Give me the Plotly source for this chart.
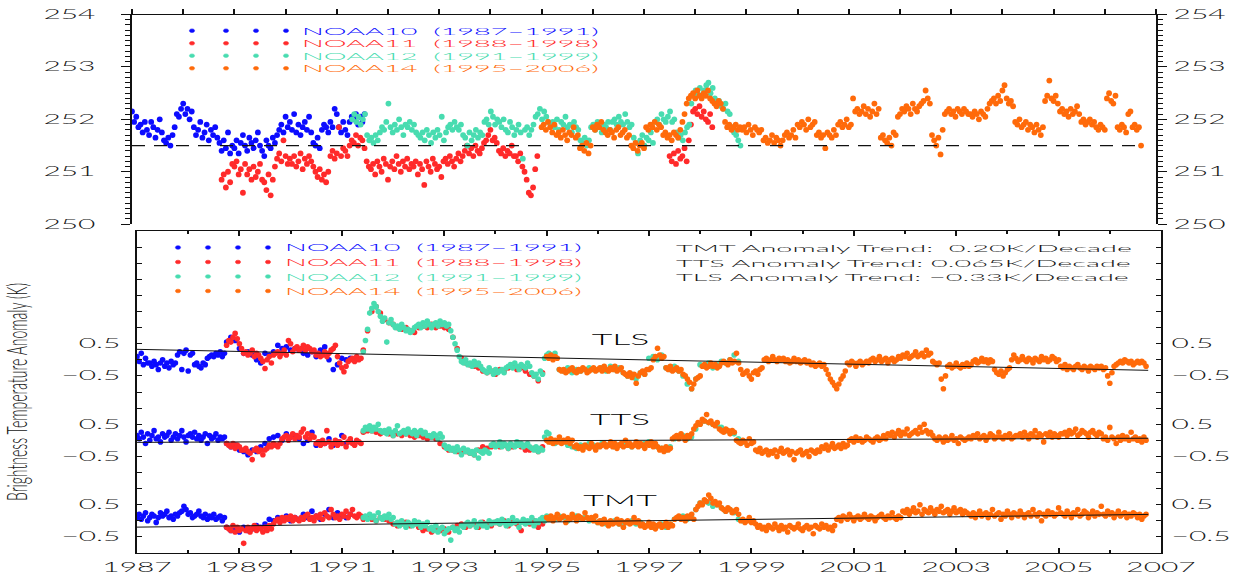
import plotly.graph_objects as go

# ---------------------------------------------------------------------------
# Sampling: two samples per month for the main records, monthly for the
# overlapping stretches that lie underneath the next satellite.
# ---------------------------------------------------------------------------
HALF_MONTH = 1.0 / 24.0
MONTH = 1.0 / 12.0

# ---------------------------------------------------------------------------
# Upper panel: brightness temperature (K) per satellite
# ---------------------------------------------------------------------------
noaa10_tb_start = 1987.0
noaa10_tb = [
    252.15, 251.95, 252.05, 251.85,
    251.9, 251.75, 251.95, 251.8, 251.7, 251.95, 251.85, 251.65, 251.8, 252.0, 251.75, 251.6,
    251.55, 251.65, 251.5, 251.7,
    251.85, 252.1, 252.05, 252.2,
    252.3, 252.1, 252.2, 252.0, 252.15,
    251.85, 251.7, 251.8, 251.95, 251.65, 251.75, 251.9, 251.6, 251.8, 251.7, 251.85, 251.65,
    251.55, 251.4, 251.6, 251.45, 251.75, 251.35, 251.5,
    251.45, 251.6, 251.35, 251.55, 251.7, 251.5, 251.4, 251.65, 251.55, 251.45, 251.6, 251.75, 251.5, 251.4,
    251.3, 251.6, 251.5, 251.45, 251.65, 251.55, 251.7,
    251.8, 251.9, 251.75,
    252.05, 251.85, 251.95, 251.8, 252.1,
    251.75, 251.9, 251.7, 251.85, 251.95, 251.8, 252.05, 251.75,
    251.55, 251.5, 251.65, 251.45,
    251.8, 251.9, 251.85, 251.75, 251.95, 251.85, 252.2,
    252.1, 251.85, 251.75, 251.95, 251.8, 251.7,
    251.95, 252.05, 252.0, 252.1, 251.9, 252.05, 251.95, 252.1,
]

noaa11_tb_start = 1988.75
noaa11_tb = [
    250.85, 250.95, 250.7, 251.0, 250.8, 251.15,
    251.1, 251.2, 250.95, 251.05, 250.6, 251.15,
    250.95, 251.05, 250.85, 251.1, 250.9, 251.0, 251.15, 250.85,
    250.8, 250.65, 250.95, 250.55, 250.85,
    251.1, 251.25, 251.35, 251.2, 251.6, 251.3, 251.15,
    251.25, 251.15, 251.3, 251.1, 251.2, 251.35, 251.05, 251.25, 251.15, 251.3, 251.2, 251.1,
    251.0, 250.9, 251.05, 250.85, 250.95, 250.8, 251.0,
    251.3, 251.4, 251.25, 251.35, 251.85, 251.3, 251.45, 251.4, 251.3, 251.5,
    251.6, 251.55, 251.7, 251.5, 251.65, 251.6, 251.45,
    251.2, 251.1, 251.05, 251.15, 250.95, 251.2, 251.1, 251.0, 251.25, 251.15, 250.85,
    251.1, 251.2, 251.05, 251.3, 251.15, 251.0, 251.2, 251.1, 251.25, 251.05, 251.15,
    251.1, 251.2, 250.95, 251.15, 251.05, 250.75, 251.2, 251.1, 251.0, 251.25, 251.15, 251.05,
    251.1, 250.9, 251.2, 251.25, 251.15, 251.3, 251.2, 251.1, 251.25, 251.35, 251.2, 251.3,
    251.4, 251.5, 251.35, 251.45, 251.3, 251.5, 251.4, 251.35, 251.45, 251.55,
    251.6, 251.7, 251.8, 251.6, 251.65, 251.55,
    251.4, 251.35, 251.45, 251.3, 251.4, 251.35, 251.5, 251.3,
    251.3, 251.2, 251.35, 251.1, 251.0, 250.85, 250.6, 250.55, 250.7, 251.05, 251.3,
]

noaa11_tb_late_start = 1997.5
noaa11_tb_late = [
    251.3, 251.2, 251.35, 251.15, 251.4, 251.25, 251.3, 251.45, 251.2, 251.6,
    251.9, 252.15, 252.2, 252.1, 252.25, 252.05, 252.15, 252.0, 251.95, 252.1, 251.85,
]

noaa12_tb_start = 1991.3
noaa12_tb = [
    252.0, 252.1, 251.95, 252.05, 251.9, 252.0, 252.1,
    251.7, 251.6, 251.65, 251.55, 251.7, 251.6, 251.75,
    251.85, 251.8, 251.95, 252.3, 251.85, 251.75, 251.9, 251.8, 252.0, 251.85, 251.7, 251.9, 251.85, 251.95, 251.8, 251.9, 251.75,
    251.7, 251.65, 251.75, 251.6, 251.8, 251.7, 251.55, 251.75, 251.65, 251.8, 251.7, 252.05, 251.6, 251.75,
    251.85, 251.9, 251.8, 251.95, 251.85, 251.8, 251.9,
    251.7, 251.65, 251.5, 251.75, 251.6, 251.7, 251.8, 251.65, 251.75, 251.7,
    251.95, 252.0, 251.9, 252.15, 252.05, 251.9, 252.0, 251.95, 251.85, 252.0,
    251.8, 251.75, 251.95, 251.85, 251.7, 251.8, 251.9, 251.75, 251.25, 251.8, 251.85, 251.7, 251.8, 251.9,
    252.05, 252.1, 252.2, 252.0, 252.15, 252.05, 251.95,
    251.9, 251.95, 251.85, 252.0, 251.8, 251.95, 251.9, 252.05, 251.85, 251.9, 251.75, 251.95, 251.85, 251.8,
    251.6, 251.55, 251.65, 251.5, 251.6,
    251.85, 251.9, 251.8, 251.95, 251.85, 251.75, 251.9, 251.85, 251.95, 251.8,
    251.95, 252.0, 251.9, 252.05, 251.95, 251.9, 252.1, 251.95, 251.85, 251.9,
    251.65, 251.55, 251.35, 251.6, 251.7, 251.5, 251.65, 251.6, 251.75, 251.55,
    251.95, 252.0, 251.9, 252.1, 252.0, 251.95, 252.05, 252.15, 251.95, 252.0,
    251.75, 251.65, 251.7, 251.6, 251.75, 251.85, 251.9,
    252.3, 252.45, 252.55, 252.5, 252.6, 252.45, 252.55, 252.65, 252.7, 252.5, 252.6,
    252.4, 252.3, 252.35, 252.25, 252.2, 252.3, 252.15, 252.1,
    251.85, 251.75, 251.7, 251.6, 251.5,
]

noaa14_tb_start = 1995.0
noaa14_tb = [
    251.85, 251.9, 251.8, 251.95, 251.85, 251.75, 251.9,
    251.7, 251.75, 251.65, 251.8, 251.7, 251.6, 251.75, 251.7, 251.85, 251.65, 251.7,
    251.45, 251.5, 251.4, 251.55, 251.35, 251.5,
    251.85, 251.8, 251.9, 251.85, 251.95, 251.8,
    251.75, 251.7, 251.8, 251.75, 251.65, 251.8, 251.85, 251.7, 251.75, 251.8, 251.65, 251.7,
    251.5, 251.45, 251.55, 251.4, 251.5, 251.55, 251.45,
    251.85, 251.8, 251.9, 251.85, 251.95, 251.8, 251.9, 251.85,
    251.7, 251.75, 251.65, 251.7, 251.6, 251.75, 251.7, 251.65, 251.8,
    251.95, 252.1, 252.3, 252.4,
    252.45, 252.5, 252.4, 252.55, 252.45, 252.4, 252.5, 252.45, 252.55, 252.4, 252.35,
    252.3, 252.25, 252.35, 252.3, 252.2,
    251.95, 251.85, 251.9, 251.8, 251.85, 251.9, 251.8, 251.85,
    251.8, 251.85, 251.75, 251.9, 251.8, 251.7, 251.85, 251.8, 251.75, 251.8,
    251.6, 251.65, 251.55, 251.6, 251.7, 251.55, 251.65, 251.6, 251.5, 251.6,
    251.7, 251.75, 251.65, 251.7, 251.8, 251.65,
    251.9, 251.85, 251.95, 251.9, 251.8, 252.0, 251.85, 251.9, 251.95,
    251.7, 251.75, 251.65, 251.7, 251.45, 251.75, 251.7, 251.65, 251.8, 251.7,
    251.9, 251.95, 251.85, 251.9, 252.0, 251.85, 251.9,
    252.4, 252.15, 252.2, 252.1, 252.15, 252.25, 252.1, 252.2, 252.05, 252.15, 252.3, 252.1, 252.2,
    251.65, 251.7, 251.6, 251.55, 251.65, 251.5, 251.75, 251.7,
    252.05, 252.1, 252.2, 252.15, 252.25, 252.2, 252.1, 252.3, 252.2, 252.15, 252.25, 252.3, 252.35, 252.55, 252.4, 252.3,
    251.7, 251.6, 251.5, 251.65, 251.33, 251.8,
    252.1, 252.15, 252.2, 252.1, 252.15, 252.05, 252.2, 252.15, 252.1, 252.2, 252.15, 252.1,
    252.1, 252.05, 252.15, 252.1, 252.0, 252.15, 252.1, 252.05, 252.2,
    252.3, 252.35, 252.4, 252.3, 252.45, 252.35, 252.55, 252.65, 252.4, 252.3, 252.35, 252.25,
    251.95, 251.9, 252.0, 251.85, 251.9, 251.95, 251.8, 251.9, 251.85, 251.75, 251.9, 251.8, 251.7, 251.85,
    252.35, 252.45, 252.74, 252.4, 252.35, 252.45, 252.3,
    252.15, 252.2, 252.1, 252.15, 252.05, 252.2, 252.1, 252.15, 252.25, 252.1,
    251.95, 252.0, 251.9, 251.95, 252.0, 251.9, 251.95,
    251.85, 251.8, 251.9, 251.85, 251.8,
    252.4, 252.5, 252.35, 252.3, 252.45,
    251.85, 251.8, 251.9, 251.85, 251.75,
    252.1, 252.15,
    251.85, 251.9, 251.8, 251.85, 251.5,
]

TB_REFERENCE = 251.5          # dashed reference level in the upper panel
TB_REFERENCE_SPAN = (1987.0, 2006.75)

# ---------------------------------------------------------------------------
# Lower panel: brightness temperature anomalies (K) per channel and satellite
# ---------------------------------------------------------------------------
# --- TLS ---
tls_noaa10_start = 1987.0
tls_noaa10 = [
    0.1, -0.05, 0.2, -0.15, 0.05, -0.1, -0.1, -0.2, -0.05, -0.15, -0.3, -0.1, 0.0, -0.2,
    -0.1, -0.25, -0.05, -0.15, -0.1, 0.15, 0.25, -0.3, 0.2, 0.3, -0.35, 0.15, 0.2, -0.15,
    -0.1, -0.2, -0.25, -0.1, -0.15, 0.05, 0.1, 0.15, 0.1, 0.2, 0.15, 0.25, 0.1, 0.2,
]
tls_noaa10_overlap_start = 1988.75
tls_noaa10_overlap = [
    0.55, 0.7, 0.6, 0.35, 0.2, 0.25, 0.15, 0.0, -0.1, 0.2, 0.15, 0.25, 0.45, 0.35, 0.4,
    0.3, 0.35, 0.3, 0.2, 0.15, 0.25, 0.1, 0.3, 0.4, 0.0, -0.3, -0.15, 0.05, 0.0, 0.05,
]
tls_noaa11_start = 1988.75
tls_noaa11 = [
    0.45, 0.6, 0.55, 0.7, 0.82, 0.65, 0.5, 0.35, 0.2, 0.25, 0.15, 0.2, 0.3, 0.1, 0.2, 0.15,
    0.05, -0.05, -0.27, 0.0, 0.1, -0.1, 0.15, 0.2, 0.25, 0.1, 0.2, 0.3, 0.15, 0.6, 0.5, 0.25,
    0.35, 0.4, 0.3, 0.35, 0.45, 0.3, 0.4, 0.35, 0.25, 0.3, 0.15, 0.2, 0.1, 0.15, 0.25, 0.1,
    0.2, 0.3, 0.35, 0.45, 0.1, -0.1, -0.25, -0.37, -0.2, -0.05, 0.0, 0.05, -0.05, 0.1, 0.0, 0.05,
]
tls_noaa11_overlap_start = 1991.42
tls_noaa11_overlap = [
    0.3, 0.9, 1.5, 1.65, 1.45, 1.25, 1.15, 1.1, 1.0, 0.95, 1.0, 0.9, 0.85, 1.0, 1.05, 1.0,
    1.1, 1.0, 1.05, 1.0, 0.95, 0.7, 0.35, 0.05, -0.1, -0.15, -0.2, -0.25, -0.35, -0.4, -0.35,
    -0.45, -0.3, -0.35, -0.25, -0.2, -0.3, -0.25, -0.35, -0.45, -0.5, -0.65, -0.4,
]
tls_noaa12_start = 1991.42
tls_noaa12 = [
    0.25, 0.6, 0.95, 1.45, 1.6, 1.75, 1.65, 1.5, 1.35, 1.2, 1.3, 0.55, 1.15, 1.25, 1.1,
    1.0, 1.05, 0.95, 1.1, 1.0, 0.9, 0.95, 0.85, 0.9, 1.0, 1.05, 1.1, 1.0, 1.15, 1.05, 1.2,
    1.1, 1.0, 1.1, 1.15, 1.05, 1.2, 1.1, 1.15, 1.05, 1.1, 0.9, 0.7, 0.5, 0.3, 0.1, -0.05,
    -0.1, 0.0, -0.15, -0.1, -0.2, -0.05, -0.15, -0.1, -0.2, -0.3, -0.35, -0.4, -0.25, -0.35,
    -0.45, -0.3, -0.4, -0.35, -0.3, -0.4, -0.25, -0.2, -0.15, -0.25, -0.1, -0.2, -0.3, -0.15,
    -0.2, -0.25, -0.1, -0.2, -0.4, -0.5, -0.45, -0.6, -0.35, -0.45, 0.05, 0.15, 0.2,
]
tls_noaa12_overlap_start = 1995.08
tls_noaa12_overlap = [
    0.15, 0.2, -0.3, -0.35, -0.25, -0.4, -0.3, -0.35, -0.3, -0.25, -0.3, -0.3, -0.25, -0.35,
    -0.2, -0.3, -0.25, -0.4, -0.5, -0.45, -0.6, -0.4, -0.45, 0.05, 0.1, 0.0, 0.15, -0.25, -0.3,
    -0.2, -0.35, -0.5, -0.75, -0.9, -0.6, -0.15, -0.2, -0.1, -0.25, -0.15, -0.05, -0.1, 0.0,
    0.15, -0.05,
]
tls_noaa14_start = 1995.0
tls_noaa14 = [
    0.1, 0.05, 0.15, 0.0, 0.1, 0.05,
    -0.3, -0.35, -0.3, -0.4, -0.35, -0.3, -0.25, -0.35, -0.4, -0.3, -0.35, -0.25, -0.3, -0.4, -0.35, -0.3, -0.25, -0.35,
    -0.3, -0.25, -0.35, -0.2, -0.3, -0.35, -0.25, -0.3, -0.2, -0.35, -0.3, -0.25,
    -0.4, -0.45, -0.5, -0.4, -0.55, -0.45, -0.73, -0.5, -0.4, -0.35, -0.45, -0.3,
    -0.3, -0.25,
    0.0, 0.1, 0.36, 0.15, 0.05, 0.1,
    -0.25, -0.3, -0.2, -0.35, -0.3, -0.25, -0.35, -0.3,
    -0.45, -0.5, -0.6, -0.7, -0.9, -0.75, -0.6, -0.55, -0.5,
    -0.2, -0.15, -0.25, -0.2, -0.1, -0.2, -0.15, -0.25, -0.2,
    -0.1, -0.05, -0.1, -0.15, 0.0, -0.1, -0.05, 0.2, -0.1,
    -0.3, -0.45, -0.4, -0.35, -0.5, -0.6, -0.4, -0.35, -0.45, -0.3, -0.25,
    0.0, 0.05, -0.05, 0.0, 0.1, 0.0, -0.05, 0.05, 0.0, 0.05,
    -0.05, 0.0, -0.1, -0.05, 0.05, -0.05, 0.0, -0.1, -0.05, 0.0, -0.1, -0.05,
    -0.15, -0.1, -0.2, -0.15, -0.1, -0.2, -0.15,
    -0.3, -0.45, -0.6, -0.7, -0.8, -0.9, -0.75, -0.6, -0.5, -0.35,
    -0.1, -0.15, -0.05, -0.1, -0.2, -0.1, -0.05, -0.15, -0.1, -0.05, -0.1,
    0.0, 0.05, -0.05, 0.0, 0.1, -0.05, 0.0, 0.05, -0.1, 0.0, 0.05, -0.05, 0.0,
    0.1, 0.05, 0.15, 0.1, 0.2, 0.05, 0.1, 0.15, 0.25, 0.1, 0.15, 0.2, 0.1, 0.3, 0.15, 0.2,
    -0.05, -0.1, -0.15, -0.1,
    -0.6, -0.9, -0.5,
    -0.2, -0.15, -0.25, -0.2, -0.1, -0.2, -0.25, -0.15, -0.2, -0.1, -0.2, -0.15,
    -0.05, 0.0, -0.1, -0.05, 0.05, -0.05, 0.0, -0.1, 0.0, -0.05,
    -0.3, -0.4, -0.45, -0.35, -0.5, -0.4, -0.3, -0.25,
    0.0, 0.15, 0.05, -0.05, 0.0, 0.1, 0.0, -0.05, 0.05, 0.0, -0.1, 0.05, 0.0, -0.05, 0.1, 0.0,
    0.05, -0.05, 0.0, 0.1, 0.05, -0.05, 0.0,
    -0.2, -0.25, -0.15, -0.3, -0.2, -0.25, -0.3, -0.2, -0.15, -0.25, -0.3, -0.2, -0.25, -0.35,
    -0.2, -0.25, -0.3, -0.2, -0.25, -0.2, -0.3, -0.25,
    -0.5, -0.73, -0.4,
    -0.2, -0.15, -0.1, -0.05, -0.1, 0.0, -0.05, -0.1, -0.05, -0.15, -0.1, -0.05, -0.1, -0.05, -0.1, -0.2,
]

# --- TTS ---
tts_noaa10_start = 1987.0
tts_noaa10 = [
    0.15, 0.05, 0.25, 0.1, -0.1, 0.2, 0.0, 0.15, 0.3, 0.05, 0.1, -0.05, 0.2, 0.1, 0.15,
    0.25, 0.0, 0.1, 0.2, 0.05, 0.15, 0.3, 0.1, -0.05, 0.15, 0.2, 0.1, 0.25, 0.05, 0.15,
    0.0, 0.1, 0.2, -0.1, 0.15, 0.05, 0.1, 0.2, 0.0, 0.1, 0.05, 0.1,
]
tts_noaa10_overlap_start = 1988.75
tts_noaa10_overlap = [
    -0.1, -0.2, -0.15, -0.3, -0.35, -0.45, -0.3, -0.35, -0.2, -0.1, 0.05, 0.1, 0.15, 0.0,
    0.2, 0.1, 0.15, 0.05, -0.1, 0.0, 0.25, -0.15, -0.05, -0.1, 0.05, -0.15, -0.05, 0.15, -0.1, 0.0,
]
tts_noaa11_start = 1988.75
tts_noaa11 = [
    -0.1, -0.15, -0.2, -0.1, -0.25, -0.15, -0.2, -0.3,
    -0.3, -0.25, -0.35, -0.4, -0.6, -0.3, -0.25, -0.35, -0.3, -0.45, -0.3, -0.25,
    -0.15, -0.2, -0.1, -0.15, -0.2, -0.1,
    0.05, 0.1, 0.15, 0.0, 0.1, 0.2, 0.05, 0.15, 0.1, 0.25, 0.35, 0.1, 0.2, 0.05, 0.15, 0.1,
    -0.1, -0.05, -0.15, 0.0, -0.1, 0.3, -0.05, -0.2, -0.1, 0.0, -0.15, -0.05, -0.1, 0.1,
    -0.2, -0.05, 0.05, -0.1, -0.15, 0.0, -0.05, -0.1,
]
tts_noaa11_overlap_start = 1991.42
tts_noaa11_overlap = [
    0.25, 0.3, 0.3, 0.25, 0.2, 0.25, 0.2, 0.15, 0.2, 0.15, 0.2, 0.15, 0.1, 0.15, 0.1, 0.05,
    0.1, 0.05, -0.1, -0.2, -0.3, -0.3, -0.35, -0.4, -0.35, -0.4, -0.45, -0.3, -0.2, -0.25,
    -0.2, -0.15, -0.2, -0.15, -0.25, -0.2, -0.15, -0.2, -0.3, -0.3, -0.25, -0.35, -0.2,
]
tts_noaa12_start = 1991.42
tts_noaa12 = [
    0.3, 0.4, 0.35, 0.45, 0.3, 0.4, 0.35, 0.5, 0.3,
    0.25, 0.3, 0.2, 0.35, 0.25, 0.15, 0.3, 0.45, 0.2, 0.25, 0.3, 0.2, 0.35, 0.25, 0.2, 0.3,
    0.15, 0.25, 0.3, 0.2, 0.25, 0.15,
    0.15, 0.1, 0.2, 0.15, 0.05, 0.2, 0.1,
    -0.15, -0.25, -0.2, -0.3, -0.25, -0.35, -0.2, -0.3, -0.45, -0.25,
    -0.35, -0.3, -0.4, -0.35, -0.45, -0.3, -0.55, -0.35, -0.4, -0.3, -0.35, -0.4,
    -0.15, -0.1, -0.2, -0.15, -0.05, -0.2, -0.1, -0.15, -0.25, -0.1, -0.15, -0.2, -0.05,
    -0.15, -0.1, -0.2, -0.15, -0.1, -0.2,
    -0.25, -0.3, -0.2, -0.35, -0.25, -0.3,
    0.1, 0.25, 0.2,
]
tts_noaa12_overlap_start = 1995.08
tts_noaa12_overlap = [
    -0.05, -0.1, 0.0, -0.05, -0.15, -0.2, -0.25, -0.15, -0.2, -0.1, -0.15, -0.2, -0.1, -0.15,
    -0.1, -0.2, -0.15, -0.1, -0.15, -0.2, -0.1, -0.15, -0.1, -0.05, -0.1, -0.2, -0.25, -0.3,
    -0.2, 0.05, 0.1, 0.15, 0.05, 0.1, 0.35, 0.5, 0.6, 0.55, 0.5, 0.45, 0.4, 0.3, 0.25, 0.2,
    0.05, -0.05,
]
tts_noaa14_start = 1995.0
tts_noaa14 = [
    0.0, -0.05, 0.05, -0.1, 0.0, -0.05, 0.1, -0.1, 0.0, -0.05, 0.05, -0.1, 0.0,
    -0.2, -0.15, -0.25, -0.2, -0.3, -0.15, -0.2, -0.25, -0.1, -0.2, -0.3, -0.15, -0.2,
    -0.15, -0.1, -0.2, -0.15, -0.05, -0.2, -0.1, -0.25, -0.15, -0.1, -0.2, 0.0, -0.15,
    -0.1, -0.2, -0.15, -0.05, -0.2, -0.1, -0.15, -0.25, -0.1, -0.15, -0.05, -0.2, -0.1,
    -0.2, -0.3, -0.25, -0.35, -0.2, -0.3, -0.25,
    0.05, 0.1, 0.15, 0.05, 0.2, 0.1, 0.0, 0.15, 0.1, 0.2,
    0.35, 0.45, 0.55, 0.5, 0.65, 0.6, 0.8, 0.55, 0.6, 0.5, 0.45, 0.55,
    0.35, 0.3, 0.25, 0.35, 0.3, 0.2, 0.3, 0.25,
    0.0, -0.05, -0.1, 0.0, -0.05, -0.15, 0.05, -0.1, -0.05,
    -0.3, -0.35, -0.25, -0.4, -0.35, -0.3, -0.45, -0.35, -0.4, -0.3, -0.5, -0.35, -0.25,
    -0.4, -0.35, -0.3, -0.45, -0.35, -0.6, -0.4, -0.35, -0.3, -0.45, -0.4, -0.35, -0.5,
    -0.3, -0.35, -0.4, -0.3, -0.35,
    -0.2, -0.25, -0.15, -0.3, -0.2, -0.1, -0.25, -0.2, -0.15, -0.25, -0.1, -0.2, -0.15,
    0.0, 0.05, -0.05, 0.1, 0.0, 0.05, -0.05, 0.0, 0.1, 0.05, 0.0, -0.05, 0.05, 0.1, 0.0,
    0.05, 0.15, 0.05,
    0.2, 0.15, 0.25, 0.1, 0.2, 0.3, 0.15, 0.25, 0.2, 0.35, 0.15, 0.2, 0.25, 0.3, 0.2, 0.4,
    0.25, 0.5, 0.3, 0.2, 0.25, 0.15,
    0.05, 0.0, 0.1, 0.05, -0.05, 0.1, 0.0, 0.05, 0.15, 0.0, 0.05, -0.1, 0.1, 0.05, 0.0, 0.05,
    0.1, 0.05, 0.15, 0.1, 0.2, 0.05, 0.1, 0.15, 0.0, 0.1, 0.2, 0.15, 0.05, 0.1, 0.25, 0.1,
    0.05, 0.15, 0.1, 0.2, 0.05, 0.1, 0.15,
    0.15, 0.2, 0.1, 0.25, 0.15, 0.05, 0.2, 0.15, 0.3, 0.1, 0.2, 0.15, -0.05, 0.2, 0.15, 0.25,
    0.1, 0.2, 0.15, 0.1, 0.2,
    0.2, 0.25, 0.15, 0.3, 0.2, 0.25, 0.35, 0.15, 0.2, 0.3, 0.25, 0.2, 0.1, 0.25, 0.3, 0.2,
    0.15, 0.25, 0.2,
    0.05, 0.1, 0.0, 0.4, 0.1, 0.05, -0.1, 0.1, 0.0, 0.15, 0.05, 0.1, 0.0, 0.25, 0.05, 0.1,
    0.0, 0.05, -0.05, 0.1, 0.0,
]

# --- TMT ---
tmt_noaa10_start = 1987.0
tmt_noaa10 = [
    0.1, 0.2, 0.05, 0.15, 0.25, 0.0, 0.1, 0.2, 0.15, -0.05, 0.1, 0.25, 0.15, 0.2, 0.3,
    0.1, 0.15, 0.05, 0.2, 0.15, 0.25, 0.3, 0.45, 0.35, 0.2, 0.25, 0.1, 0.15, 0.2, 0.3,
    0.15, 0.1, 0.2, 0.05, 0.15, 0.1, 0.2, 0.05, 0.1, 0.15, 0.0, 0.1,
]
tmt_noaa10_overlap_start = 1988.75
tmt_noaa10_overlap = [
    -0.2, -0.3, -0.25, -0.35, -0.2, -0.3, -0.25, -0.15, -0.2, -0.1, 0.05, 0.0, 0.1, 0.05,
    0.15, 0.0, 0.1, 0.05, 0.2, 0.1, 0.3, 0.15, 0.05, 0.2, 0.35, 0.1, 0.25, 0.15, 0.1, 0.2,
]
tmt_noaa11_start = 1988.75
tmt_noaa11 = [
    -0.2, -0.25, -0.3, -0.15, -0.35, -0.2, -0.3, -0.25, -0.7, -0.3, -0.2, -0.35, -0.25,
    -0.15, -0.3, -0.2, -0.25, -0.35, -0.2, -0.3, -0.15, -0.25, -0.1,
    0.0, 0.05, -0.05, 0.1, 0.0, 0.1, 0.05, 0.15, 0.0, 0.1, 0.05, 0.0, 0.1, 0.05, 0.15, 0.2,
    0.05, 0.1, 0.0,
    0.15, 0.1, 0.2, 0.05, 0.25, 0.15, 0.1, 0.35, 0.2, 0.1, 0.15, 0.05, 0.2, 0.15, 0.3, 0.1,
    0.2, 0.35, 0.15, 0.1, 0.2, 0.15,
]
tmt_noaa11_overlap_start = 1991.42
tmt_noaa11_overlap = [
    0.05, 0.1, 0.05, 0.0, 0.1, 0.05, 0.0, -0.1, -0.15, -0.1, -0.05, -0.15, -0.1, -0.2, -0.3,
    -0.25, -0.35, -0.2, -0.3, -0.25, -0.35, -0.2, -0.15, -0.1, -0.2, -0.15, -0.1, -0.2, -0.05,
    -0.1, -0.15, -0.05, -0.1, 0.0, -0.15, -0.05, -0.1, -0.3, -0.05, -0.1, 0.0, -0.2, -0.1,
]
tmt_noaa12_start = 1991.42
tmt_noaa12 = [
    0.1, 0.15, 0.05, 0.2, 0.1, 0.15, 0.0, 0.25, 0.1, 0.05, 0.15, 0.1, 0.2, 0.05, 0.1,
    -0.1, -0.05, -0.15, 0.0, -0.1, -0.2, -0.05, -0.1, -0.15, 0.0, -0.1, -0.05, -0.2, -0.1,
    -0.15, -0.05,
    -0.25, -0.2, -0.3, -0.15, -0.35, -0.25, -0.2, -0.4, -0.3, -0.25, -0.6, -0.2, -0.3, -0.25,
    -0.35, -0.15, -0.2,
    -0.1, -0.05, -0.15, -0.1, 0.0, -0.2, -0.1, -0.05, -0.15, -0.1, -0.2, 0.0, -0.1, -0.05,
    -0.05, 0.0, -0.1, 0.05, -0.05, -0.15, 0.0, -0.1, 0.1, -0.05, 0.0, -0.2, -0.05, 0.05,
    -0.1, 0.0, -0.05, 0.1, -0.15, 0.0, -0.05, 0.05, 0.1, 0.0, 0.15, 0.05,
]
tmt_noaa12_overlap_start = 1995.08
tmt_noaa12_overlap = [
    0.1, 0.05, 0.15, 0.1, 0.0, 0.1, 0.15, 0.05, 0.1, 0.0, 0.05,
    -0.05, 0.0, -0.1, -0.05, 0.0, -0.1, -0.15, -0.05, 0.0, -0.1, -0.05, -0.15, -0.1, -0.2,
    -0.15, -0.1, -0.2, -0.1,
    0.05, 0.1, 0.15, 0.05, 0.1,
    0.35, 0.55, 0.6, 0.55, 0.45, 0.5,
    0.4, 0.3, 0.35, 0.25, 0.05, 0.0,
]
tmt_noaa14_start = 1995.0
tmt_noaa14 = [
    0.1, 0.05, 0.15, 0.0, 0.1, 0.2, 0.05, 0.1, 0.15, -0.05, 0.1, 0.05, 0.2, 0.1, 0.0, 0.15,
    0.1, 0.05, 0.25, 0.1, 0.05, 0.1, 0.0, 0.15,
    -0.05, 0.0, -0.1, 0.05, -0.05, -0.15, 0.0, -0.1, -0.05, 0.05, -0.1, 0.0, -0.2, -0.05,
    0.0, -0.1, -0.05, 0.1, -0.05, 0.0,
    -0.15, -0.1, -0.2, -0.15, -0.05, -0.2, -0.1, -0.25, -0.15, -0.1, -0.2, -0.15, -0.05,
    -0.2, -0.1, -0.15,
    0.05, 0.1, 0.15, 0.05, 0.1, 0.0, 0.15, 0.1, 0.2, 0.05,
    0.35, 0.45, 0.55, 0.5, 0.65, 0.6, 0.8, 0.7, 0.55, 0.6, 0.5, 0.55,
    0.4, 0.35, 0.3, 0.4, 0.35, 0.25, 0.3, 0.35, 0.2,
    0.0, 0.05, -0.05, 0.0, 0.1, -0.05, 0.0, -0.1,
    -0.2, -0.15, -0.25, -0.2, -0.3, -0.15, -0.2, -0.25, -0.1, -0.2, -0.3, -0.15, -0.25,
    -0.2, -0.35, -0.15, -0.2, -0.25, -0.2, -0.1, -0.25, -0.3, -0.2, -0.15, -0.25, -0.2,
    -0.4, -0.15, -0.2, -0.25, -0.1, -0.2, -0.15, -0.25, -0.2, -0.3, -0.15,
    0.05, 0.1, 0.0, 0.15, 0.1, 0.05, 0.2, 0.1, 0.0, 0.1, 0.15, 0.05, 0.1, 0.2, 0.1, 0.05,
    0.15, 0.1, 0.0, 0.1, 0.15, 0.2, 0.1, 0.05, 0.15, 0.1, 0.25, 0.1, 0.05, 0.15, 0.1,
    0.3, 0.25, 0.35, 0.2, 0.3, 0.4, 0.25, 0.3, 0.5, 0.2, 0.35, 0.3, 0.25, 0.4, 0.3, 0.2,
    0.35, 0.3, 0.45, 0.25, 0.3, 0.35, 0.2, 0.3, 0.4, 0.25, 0.3, 0.35, 0.2, 0.3, 0.25,
    0.2, 0.15, 0.25, 0.1, 0.2, 0.3, 0.15, 0.2, 0.25, 0.1, 0.2, 0.35, 0.15, 0.2, 0.25, 0.05,
    0.2, 0.15, 0.3, 0.2, 0.1, 0.25, 0.2, 0.15, 0.3, 0.2, 0.1, 0.2, 0.25, 0.15, 0.35, 0.2,
    0.15, 0.25, 0.0, 0.2, 0.15, 0.3, 0.2, 0.25, 0.15, 0.2, 0.4, 0.25, 0.2, 0.15, 0.3, 0.2,
    0.1, 0.25, 0.2, 0.35, 0.15, 0.2, 0.3, 0.25, 0.1, 0.2, 0.3, 0.15, 0.25, 0.2, 0.45, 0.2,
    0.15, 0.3, 0.2, 0.25, 0.1, 0.2, 0.3, 0.15, 0.2, 0.25, 0.1, 0.2, 0.15, 0.25, 0.2, 0.1,
    0.2, 0.05, 0.15, 0.2,
]

# Channel stacking offsets (K) and linear trends (K/decade) quoted in the panel
CHANNEL_OFFSET = {"TLS": 5.0, "TTS": 2.5, "TMT": 0.0}
TREND_K_PER_DECADE = {"TMT": 0.20, "TTS": 0.065, "TLS": -0.33}
TREND_LABEL = {"TMT": "0.20", "TTS": "0.065", "TLS": "−0.33"}
TREND_CENTER_YEAR = 1996.85
TREND_SPAN = (1987.0, 2006.75)

SATELLITES = ["NOAA10", "NOAA11", "NOAA12", "NOAA14"]
PERIODS = {"NOAA10": "1987–1991", "NOAA11": "1988–1998",
           "NOAA12": "1991–1999", "NOAA14": "1995–2006"}
COLORS = {"NOAA10": "#0c0cff", "NOAA11": "#ff2a2a",
          "NOAA12": "#48dcb0", "NOAA14": "#ff6a0a"}

# ---------------------------------------------------------------------------
# Figure geometry (pixels)
# ---------------------------------------------------------------------------
W, H = 1238, 579
TOP_X = (132, 1156)
TOP_Y = (14.5, 224.2)
BOT_X = (137, 1161)
BOT_Y = (231, 553)

FONT = "Lato"
FONT_WEIGHT = 300
INK = "#161616"
AXIS = "#111111"
DOT_SIZE_TOP = 5.8
DOT_SIZE_BOTTOM = 5.6
LEGEND_SIZE = 10.5   # legend rows are set small and widened more strongly


def fx(px):
    return px / W


def fy(px):
    return 1.0 - px / H


def times(start, values, step):
    return [start + i * step for i in range(len(values))]


fig = go.Figure()


def add_dots(start, values, step, sat, xaxis, yaxis, size, offset=0.0):
    fig.add_trace(go.Scatter(
        x=times(start, values, step),
        y=[v + offset for v in values],
        mode="markers",
        marker=dict(color=COLORS[sat], size=size, line=dict(width=0)),
        xaxis=xaxis, yaxis=yaxis, showlegend=False, hoverinfo="skip",
    ))


# Upper panel
add_dots(noaa10_tb_start, noaa10_tb, HALF_MONTH, "NOAA10", "x", "y", DOT_SIZE_TOP)
add_dots(noaa11_tb_start, noaa11_tb, HALF_MONTH, "NOAA11", "x", "y", DOT_SIZE_TOP)
add_dots(noaa11_tb_late_start, noaa11_tb_late, HALF_MONTH, "NOAA11", "x", "y", DOT_SIZE_TOP)
add_dots(noaa12_tb_start, noaa12_tb, HALF_MONTH, "NOAA12", "x", "y", DOT_SIZE_TOP)
add_dots(noaa14_tb_start, noaa14_tb, HALF_MONTH, "NOAA14", "x", "y", DOT_SIZE_TOP)

fig.add_trace(go.Scatter(
    x=list(TB_REFERENCE_SPAN), y=[TB_REFERENCE, TB_REFERENCE], mode="lines",
    line=dict(color="#111111", width=1.3, dash="13px,9px"),
    xaxis="x", yaxis="y3", showlegend=False, hoverinfo="skip",
))

# Lower panel
channels = {
    "TLS": [
        (tls_noaa10_start, tls_noaa10, HALF_MONTH, "NOAA10"),
        (tls_noaa10_overlap_start, tls_noaa10_overlap, MONTH, "NOAA10"),
        (tls_noaa11_start, tls_noaa11, HALF_MONTH, "NOAA11"),
        (tls_noaa11_overlap_start, tls_noaa11_overlap, MONTH, "NOAA11"),
        (tls_noaa12_start, tls_noaa12, HALF_MONTH, "NOAA12"),
        (tls_noaa12_overlap_start, tls_noaa12_overlap, MONTH, "NOAA12"),
        (tls_noaa14_start, tls_noaa14, HALF_MONTH, "NOAA14"),
    ],
    "TTS": [
        (tts_noaa10_start, tts_noaa10, HALF_MONTH, "NOAA10"),
        (tts_noaa10_overlap_start, tts_noaa10_overlap, MONTH, "NOAA10"),
        (tts_noaa11_start, tts_noaa11, HALF_MONTH, "NOAA11"),
        (tts_noaa11_overlap_start, tts_noaa11_overlap, MONTH, "NOAA11"),
        (tts_noaa12_start, tts_noaa12, HALF_MONTH, "NOAA12"),
        (tts_noaa12_overlap_start, tts_noaa12_overlap, MONTH, "NOAA12"),
        (tts_noaa14_start, tts_noaa14, HALF_MONTH, "NOAA14"),
    ],
    "TMT": [
        (tmt_noaa10_start, tmt_noaa10, HALF_MONTH, "NOAA10"),
        (tmt_noaa10_overlap_start, tmt_noaa10_overlap, MONTH, "NOAA10"),
        (tmt_noaa11_start, tmt_noaa11, HALF_MONTH, "NOAA11"),
        (tmt_noaa11_overlap_start, tmt_noaa11_overlap, MONTH, "NOAA11"),
        (tmt_noaa12_start, tmt_noaa12, HALF_MONTH, "NOAA12"),
        (tmt_noaa12_overlap_start, tmt_noaa12_overlap, MONTH, "NOAA12"),
        (tmt_noaa14_start, tmt_noaa14, HALF_MONTH, "NOAA14"),
    ],
}

# draw satellite by satellite so later platforms sit on top in every channel
for sat in SATELLITES:
    for ch, segments in channels.items():
        for start, values, step, s in segments:
            if s == sat:
                add_dots(start, values, step, sat, "x2", "y2", DOT_SIZE_BOTTOM,
                         CHANNEL_OFFSET[ch])

for ch in ["TLS", "TTS", "TMT"]:
    slope = TREND_K_PER_DECADE[ch] / 10.0
    xs = list(TREND_SPAN)
    ys = [CHANNEL_OFFSET[ch] + slope * (t - TREND_CENTER_YEAR) for t in xs]
    fig.add_trace(go.Scatter(
        x=xs, y=ys, mode="lines", line=dict(color="#111111", width=1),
        xaxis="x2", yaxis="y4", showlegend=False, hoverinfo="skip",
    ))

# ---------------------------------------------------------------------------
# Axes
# ---------------------------------------------------------------------------
tick_font = dict(family=FONT, size=13, color=INK, weight=FONT_WEIGHT)

top_y_common = dict(
    range=[250, 254], domain=[fy(TOP_Y[1]), fy(TOP_Y[0])],
    tickmode="linear", tick0=250, dtick=1, ticks="outside", ticklen=9,
    tickwidth=1, tickcolor=AXIS, showline=True, linecolor=AXIS, linewidth=2,
    showgrid=False, zeroline=False, tickfont=tick_font, automargin=False,
    minor=dict(dtick=0.1, tick0=250, ticks="outside", ticklen=5, tickcolor=AXIS,
               tickwidth=1, showgrid=False),
)

bottom_tickvals = [v / 2.0 for v in range(-2, 19)]
bottom_labels = {}
for ch, off in CHANNEL_OFFSET.items():
    bottom_labels[off + 0.5] = "0.5"
    bottom_labels[off - 0.5] = "−0.5"
bottom_ticktext = [bottom_labels.get(v, "") for v in bottom_tickvals]

bot_y_common = dict(
    range=[-1, 9], domain=[fy(BOT_Y[1]), fy(BOT_Y[0])],
    tickmode="array", tickvals=bottom_tickvals, ticktext=bottom_ticktext,
    ticks="inside", ticklen=5, tickwidth=1, tickcolor=AXIS,
    showline=True, linecolor=AXIS, linewidth=2, showgrid=False, zeroline=False,
    tickfont=tick_font, automargin=False,
)

fig.update_layout(
    width=W, height=H, margin=dict(l=0, r=0, t=0, b=0),
    paper_bgcolor="white", plot_bgcolor="rgba(0,0,0,0)", showlegend=False,
    font=dict(family=FONT, color=INK, weight=FONT_WEIGHT),
    xaxis=dict(
        domain=[fx(TOP_X[0]), fx(TOP_X[1])], range=[1987, 2007], anchor="y",
        side="top", tickmode="linear", tick0=1987, dtick=1, ticks="outside",
        ticklen=5, tickwidth=1.5, tickcolor=AXIS, showticklabels=False,
        showline=True, linecolor=AXIS, linewidth=1, showgrid=False,
        zeroline=False, automargin=False,
    ),
    yaxis=dict(anchor="x", side="left", ticklabelstandoff=23, **top_y_common),
    yaxis3=dict(anchor="x", overlaying="y", side="right", ticklabelstandoff=4,
                **top_y_common),
    xaxis2=dict(
        domain=[fx(BOT_X[0]), fx(BOT_X[1])], range=[1987, 2007], anchor="y2",
        side="bottom", tickmode="linear", tick0=1987, dtick=2, ticks="inside",
        ticklen=5, tickwidth=1.5, tickcolor=AXIS, mirror="ticks",
        showline=True, linecolor=AXIS, linewidth=1.2, showgrid=False,
        zeroline=False, tickfont=tick_font, ticklabelstandoff=2, automargin=False,
        minor=dict(dtick=1, tick0=1987, ticks="inside", ticklen=2.5,
                   tickcolor=AXIS, tickwidth=1.5, showgrid=False),
    ),
    yaxis2=dict(
        anchor="x2", side="left", ticklabelstandoff=12,
        title=dict(text="Brightness Temperature Anomaly (K)",
                   font=dict(family=FONT, size=14, color=INK, weight=FONT_WEIGHT),
                   standoff=64),
        **bot_y_common,
    ),
    yaxis4=dict(anchor="x2", overlaying="y2", side="right", ticklabelstandoff=6,
                **bot_y_common),
)

# ---------------------------------------------------------------------------
# Legends, channel names and trend statements
# ---------------------------------------------------------------------------
def legend_block(dot_xs, text_x, row_ys):
    for sat, row_y in zip(SATELLITES, row_ys):
        for dx in dot_xs:
            fig.add_shape(
                type="circle", xref="paper", yref="paper",
                x0=fx(dx - 2.6), x1=fx(dx + 2.6), y0=fy(row_y + 1.8), y1=fy(row_y - 1.8),
                fillcolor=COLORS[sat], line=dict(color=COLORS[sat], width=0.6),
            )
        fig.add_annotation(
            x=fx(text_x), y=fy(row_y), xref="paper", yref="paper",
            xanchor="left", yanchor="middle", align="left", showarrow=False,
            text=f"{sat}  ({PERIODS[sat]})",
            font=dict(family=FONT, size=LEGEND_SIZE, color=COLORS[sat],
                      weight=FONT_WEIGHT),
        )


legend_block([192, 226, 256, 286], 300, [30.7, 43.3, 55.7, 68.3])
legend_block([178, 208, 238, 268], 283, [247.5, 262, 276.5, 291])

trend_rows = {"TMT": 248, "TTS": 262.5, "TLS": 277}
trend_pad = {"TMT": "  ", "TTS": " ", "TLS": " "}
for ch, row_y in trend_rows.items():
    fig.add_annotation(
        x=fx(674), y=fy(row_y), xref="paper", yref="paper",
        xanchor="left", yanchor="middle", align="left", showarrow=False,
        text=f"{ch} Anomaly Trend:{trend_pad[ch]}{TREND_LABEL[ch]}K/Decade",
        font=dict(family=FONT, size=LEGEND_SIZE, color=INK, weight=FONT_WEIGHT),
    )

channel_label_y = {"TLS": 338.5, "TTS": 419, "TMT": 500}
for ch, row_y in channel_label_y.items():
    fig.add_annotation(
        x=fx(620), y=fy(row_y), xref="paper", yref="paper",
        xanchor="center", yanchor="middle", showarrow=False, text=ch,
        font=dict(family=FONT, size=15.5, color="#000000", weight=FONT_WEIGHT),
    )

# The lettering of this chart is drawn wide: stretch every label along its
# reading direction once the page has been laid out (small legend lettering
# a little more); the rotated axis title is widened across its glyphs.
STRETCH_JS = """
var gd = document.getElementById('{plot_id}');
var sy = 1.9;
gd.querySelectorAll('svg text').forEach(function (t) {
  var x = parseFloat(t.getAttribute('x') || '0');
  var y = parseFloat(t.getAttribute('y') || '0');
  var tr = t.getAttribute('transform') || '';
  var fs = parseFloat(t.style.fontSize || '12');
  var sx = fs < 11 ? 2.75 : 2.3;
  var rotated = /^y\\d*title$/.test(t.getAttribute('class') || '');
  if (rotated) {
    t.setAttribute('transform', tr + ' translate(' + x + ',' + y + ') scale(1,' + sy + ') translate(' + (-x) + ',' + (-y) + ')');
  } else {
    t.setAttribute('transform', tr + ' translate(' + x + ',0) scale(' + sx + ',1) translate(' + (-x) + ',0)');
  }
});
"""

fig.write_html("out.html", post_script=STRETCH_JS)
